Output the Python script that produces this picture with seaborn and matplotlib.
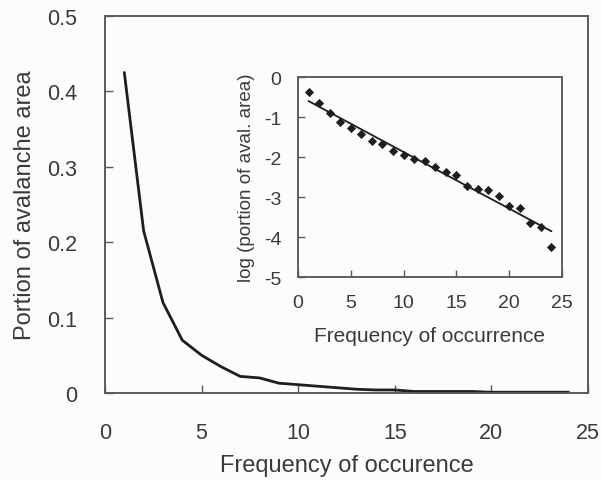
import numpy as np
import pandas as pd
import seaborn as sns
import matplotlib.pyplot as plt
from matplotlib.patches import Rectangle

# -------------------------
# Data
# -------------------------
frequency = list(range(1, 25))

portion = [0.425, 0.215, 0.120, 0.070, 0.050, 0.035, 0.022, 0.020,
           0.013, 0.011, 0.009, 0.007, 0.005, 0.004, 0.004, 0.002,
           0.002, 0.002, 0.002, 0.001, 0.001, 0.001, 0.001, 0.001]

log_portion = [-0.37, -0.64, -0.89, -1.12, -1.28, -1.42, -1.61, -1.68,
               -1.86, -1.96, -2.04, -2.09, -2.26, -2.37, -2.45, -2.73,
               -2.79, -2.83, -2.98, -3.22, -3.28, -3.64, -3.74, -4.24]

main_xticks = [0, 5, 10, 15, 20, 25]
main_yticks = [0, 0.1, 0.2, 0.3, 0.4, 0.5]
main_yticklabels = ["0", "0.1", "0.2", "0.3", "0.4", "0.5"]
inset_yticks = [-5, -4, -3, -2, -1, 0]

df = pd.DataFrame({"freq": frequency, "portion": portion, "logp": log_portion})

# -------------------------
# Style
# -------------------------
sns.set_style("ticks", {"axes.spines.top": True, "axes.spines.right": True})
plt.rcParams["font.family"] = ["Liberation Sans", "DejaVu Sans"]
plt.rcParams["axes.unicode_minus"] = False
text_color = "#3a3a3a"
frame_color = "#5a5a5a"
bg = "#fbfcfb"


def frame(a, lw):
    # full box round the axes
    for s in a.spines.values():
        s.set_visible(True)
        s.set_color(frame_color)
        s.set_linewidth(lw)
    a.add_patch(Rectangle((0, 0), 1, 1, transform=a.transAxes, fill=False,
                          edgecolor=frame_color, linewidth=lw,
                          clip_on=False, zorder=5))


fig = plt.figure(figsize=(6.01, 4.81), dpi=100)
fig.patch.set_facecolor(bg)

# -------------------------
# Main plot
# -------------------------
ax = fig.add_axes([0.1747, 0.1809, 0.8037, 0.7838])
ax.set_facecolor(bg)
sns.lineplot(data=df, x="freq", y="portion", color="#1e1e1e", linewidth=2.0, ax=ax)
ax.set_xlim(0, 25)
ax.set_ylim(0, 0.5)
ax.set_xticks(main_xticks)
ax.set_yticks(main_yticks)
ax.set_yticklabels(main_yticklabels)
ax.tick_params(direction="in", length=6, width=1, color=frame_color,
               labelsize=15.5, labelcolor=text_color)
ax.tick_params(axis="x", pad=21)
ax.tick_params(axis="y", pad=20)
ax.set_xlabel("Frequency of occurence", fontsize=17, color=text_color, labelpad=8)
ax.set_ylabel("Portion of avalanche area", fontsize=17, color=text_color, labelpad=8)
frame(ax, 1.2)

# -------------------------
# Inset
# -------------------------
axi = fig.add_axes([0.4958, 0.4220, 0.4393, 0.4158])
axi.set_facecolor(bg)
sns.regplot(data=df, x="freq", y="logp", ci=None, marker="D", ax=axi,
            scatter_kws={"s": 22, "color": "#1e1e1e", "linewidths": 0, "alpha": 1},
            line_kws={"color": "#1e1e1e", "linewidth": 1.3})
axi.set_xlim(0, 25)
axi.set_ylim(-5, 0)
axi.set_xticks(main_xticks)
axi.set_yticks(inset_yticks)
axi.tick_params(direction="in", length=5, width=1, color=frame_color,
                labelsize=14, labelcolor=text_color)
axi.tick_params(axis="x", pad=12)
axi.tick_params(axis="y", pad=12)
axi.set_xlabel("Frequency of occurrence", fontsize=15, color=text_color, labelpad=11)
axi.set_ylabel("log (portion of aval. area)", fontsize=13.5, color=text_color, labelpad=6)
frame(axi, 1.1)

fig.savefig("out.png", dpi=100, facecolor=fig.get_facecolor())
